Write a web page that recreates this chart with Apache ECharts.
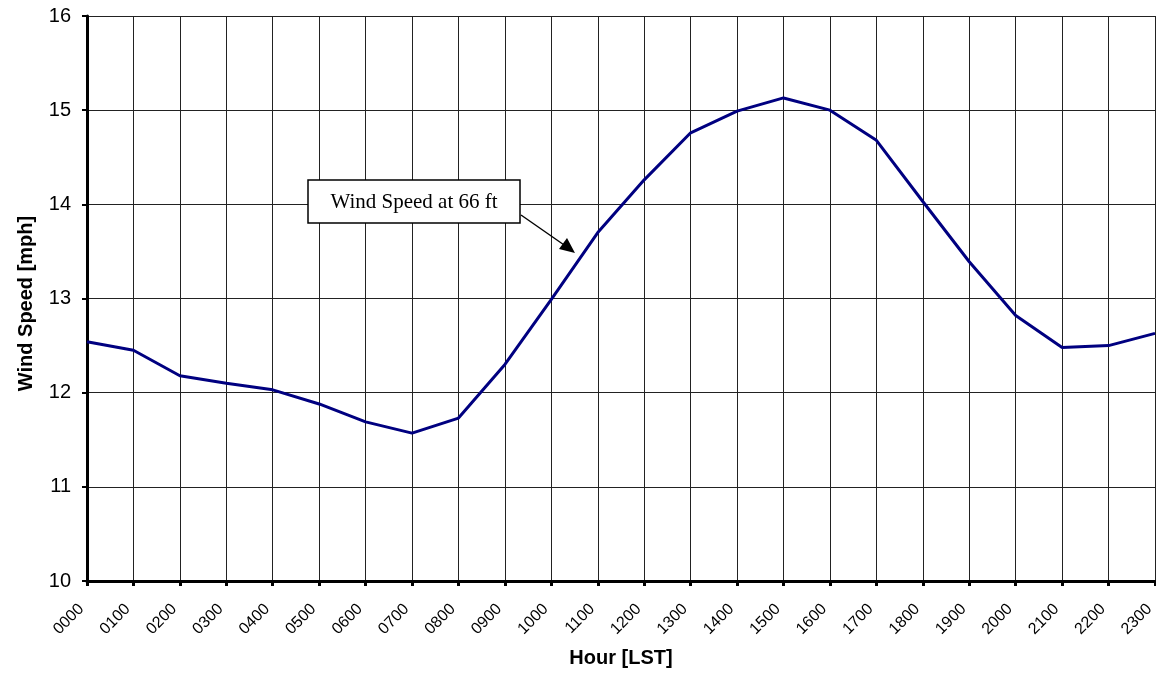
<!DOCTYPE html>
<html><head><meta charset="utf-8">
<script src="https://cdn.jsdelivr.net/npm/echarts@6/dist/echarts.min.js"></script>
<style>html,body{margin:0;padding:0;background:#fff}#c{width:1156px;height:673px}</style>
</head><body><div id="c"></div>
<script>
const hours = ['0000','0100','0200','0300','0400','0500','0600','0700','0800','0900','1000','1100','1200','1300','1400','1500','1600','1700','1800','1900','2000','2100','2200','2300'];
const windSpeed = [12.54,12.45,12.18,12.10,12.03,11.88,11.69,11.57,11.73,12.30,12.99,13.70,14.26,14.76,14.99,15.13,15.00,14.68,14.03,13.39,12.82,12.48,12.50,12.63];
const yTicks = {min:10, max:16, interval:1};
const annotationText = 'Wind Speed at 66 ft';

const chart = echarts.init(document.getElementById('c'));
chart.setOption({
  animation:false,
  grid:{left:87,right:1,top:16,bottom:92,containLabel:false,outerBoundsMode:'none'},
  xAxis:{
    type:'category', data:hours, boundaryGap:false,
    name:'Hour [LST]', nameLocation:'middle', nameGap:67, nameMoveOverlap:false,
    nameTextStyle:{fontFamily:'Liberation Sans',fontWeight:'bold',fontSize:20,color:'#000'},
    axisLine:{lineStyle:{color:'#000',width:3}},
    axisTick:{show:true,length:5,lineStyle:{color:'#000',width:3}},
    axisLabel:{rotate:45,fontFamily:'Liberation Sans',fontSize:16,color:'#000',margin:20,padding:[0,8,0,0]},
    splitLine:{show:true,lineStyle:{color:'#222',width:1}}
  },
  yAxis:{
    type:'value', min:yTicks.min, max:yTicks.max, interval:yTicks.interval,
    name:'Wind Speed [mph]', nameLocation:'middle', nameGap:51, nameMoveOverlap:false,
    nameTextStyle:{fontFamily:'Liberation Sans',fontWeight:'bold',fontSize:20,color:'#000',padding:[0,10,0,0]},
    axisLine:{show:true,lineStyle:{color:'#000',width:3}},
    axisTick:{show:true,length:5,lineStyle:{color:'#000',width:2}},
    axisLabel:{fontFamily:'Liberation Sans',fontSize:20,color:'#000',margin:16},
    splitLine:{show:true,lineStyle:{color:'#222',width:1}}
  },
  series:[{
    type:'line', data:windSpeed, showSymbol:false,
    lineStyle:{color:'#000080',width:3}, z:5
  }],
  graphic:[
    {type:'line',shape:{x1:521,y1:215,x2:567,y2:247},style:{stroke:'#000',lineWidth:1.5},z:10},
    {type:'polygon',shape:{points:[[575,253],[559,249],[567,238]]},style:{fill:'#000'},z:10},
    {type:'rect',shape:{x:308,y:180,width:212,height:43},style:{fill:'#fff',stroke:'#000',lineWidth:1.5},z:10},
    {type:'text',x:414,y:202,style:{text:annotationText,font:'21px "Liberation Serif", serif',fill:'#000',align:'center',verticalAlign:'middle'},z:11}
  ]
});
</script></body></html>
